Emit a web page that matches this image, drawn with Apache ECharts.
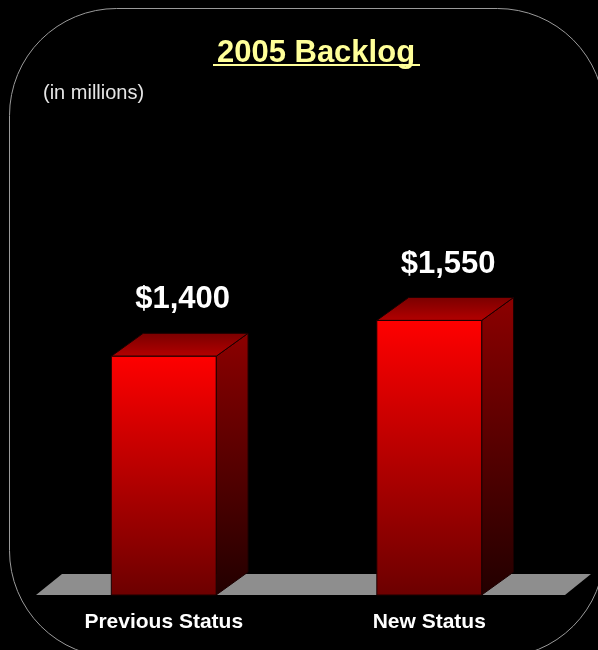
<!DOCTYPE html>
<html>
<head>
<meta charset="utf-8">
<style>
  html, body { margin: 0; padding: 0; background: #000; }
  #chart { width: 598px; height: 650px; }
</style>
<script src="https://cdn.jsdelivr.net/npm/echarts@6/dist/echarts.min.js"></script>
</head>
<body>
<div id="chart"></div>
<script>
// Backlog figures, in millions of dollars
const categories = ['Previous Status', 'New Status'];
const backlog = [1400, 1550];
const titleText = '2005 Backlog';
const unitNote = '(in millions)';

// value axis range (the floor sits at the axis minimum)
const yMin = 400;
const yMax = 2000;

const FONT = '"Liberation Sans", Arial, sans-serif';

const chart = echarts.init(document.getElementById('chart'), null, { renderer: 'canvas' });

function money(v) {
  return '$' + Number(v).toLocaleString('en-US');
}

// 3D-looking box for each category, plus the grey floor under the plot
function renderBox(params, api) {
  const cat = api.value(0);
  const val = api.value(1);
  const top = api.coord([cat, val]);
  const base = api.coord([cat, yMin]);
  const band = api.size([1, 0])[0];
  const w = band * 0.395;
  const dx = band * 0.12;
  const dy = dx * 0.72;
  const x0 = top[0] - w / 2;
  const x1 = x0 + w;
  const yT = top[1];
  const yB = base[1];
  const children = [];

  if (params.dataIndex === 0) {
    const cs = params.coordSys;
    const fy = cs.y + cs.height;
    const fdx = 26, fdy = 21;
    children.push({
      type: 'polygon',
      shape: { points: [
        [cs.x + 5, fy], [cs.x + cs.width + 3, fy],
        [cs.x + cs.width + 3 + fdx, fy - fdy], [cs.x + 5 + fdx, fy - fdy]
      ] },
      style: { fill: '#8e8e8e' }
    });
  }

  // right side face
  children.push({
    type: 'polygon',
    shape: { points: [[x1, yT], [x1 + dx, yT - dy], [x1 + dx, yB - dy], [x1, yB]] },
    style: {
      fill: new echarts.graphic.LinearGradient(0, 0, 0, 1, [
        { offset: 0, color: '#8c0000' },
        { offset: 1, color: '#220000' }
      ]),
      stroke: '#1a0000', lineWidth: 1
    }
  });
  // top face
  children.push({
    type: 'polygon',
    shape: { points: [[x0, yT], [x0 + dx, yT - dy], [x1 + dx, yT - dy], [x1, yT]] },
    style: {
      fill: new echarts.graphic.LinearGradient(0, 0, 0, 1, [
        { offset: 0, color: '#7a0000' },
        { offset: 1, color: '#b40000' }
      ]),
      stroke: '#1a0000', lineWidth: 1
    }
  });
  // front face
  children.push({
    type: 'rect',
    shape: { x: x0, y: yT, width: w, height: yB - yT },
    style: {
      fill: new echarts.graphic.LinearGradient(0, 0, 0, 1, [
        { offset: 0, color: '#ff0000' },
        { offset: 1, color: '#6c0000' }
      ]),
      stroke: '#1a0000', lineWidth: 1
    }
  });
  // value label above the box
  children.push({
    type: 'text',
    x: top[0] + dx / 2 + 3,
    y: yT - dy - 18,
    style: {
      text: money(val),
      fill: '#ffffff',
      font: 'bold 31px ' + FONT,
      align: 'center',
      verticalAlign: 'bottom'
    }
  });

  return { type: 'group', children: children };
}

const option = {
  backgroundColor: '#000000',
  animation: false,
  grid: { left: 31, top: 213, width: 531, height: 382 },
  xAxis: {
    type: 'category',
    data: categories,
    axisLine: { show: false },
    axisTick: { show: false },
    axisLabel: {
      color: '#ffffff',
      fontFamily: FONT,
      fontWeight: 'bold',
      fontSize: 21,
      margin: 17
    }
  },
  yAxis: {
    type: 'value',
    min: yMin,
    max: yMax,
    show: false
  },
  series: [{
    type: 'custom',
    renderItem: renderBox,
    data: backlog.map((v, i) => [i, v]),
    encode: { x: 0, y: 1 }
  }],
  graphic: [
    {
      type: 'rect',
      shape: { x: 9.5, y: 8.5, width: 595, height: 649, r: 107 },
      style: { fill: 'none', stroke: '#9a9a9a', lineWidth: 1 },
      silent: true
    },
    {
      type: 'text',
      x: 316,
      y: 53,
      style: {
        text: titleText,
        fill: '#ffff99',
        font: 'bold 31px ' + FONT,
        align: 'center',
        verticalAlign: 'middle'
      }
    },
    {
      type: 'line',
      shape: { x1: 213, y1: 65, x2: 420, y2: 65 },
      style: { stroke: '#ffff99', lineWidth: 2 }
    },
    {
      type: 'text',
      x: 43,
      y: 93,
      style: {
        text: unitNote,
        fill: '#e6e6e6',
        font: '20px ' + FONT,
        align: 'left',
        verticalAlign: 'middle'
      }
    }
  ]
};

chart.setOption(option);
</script>
</body>
</html>
